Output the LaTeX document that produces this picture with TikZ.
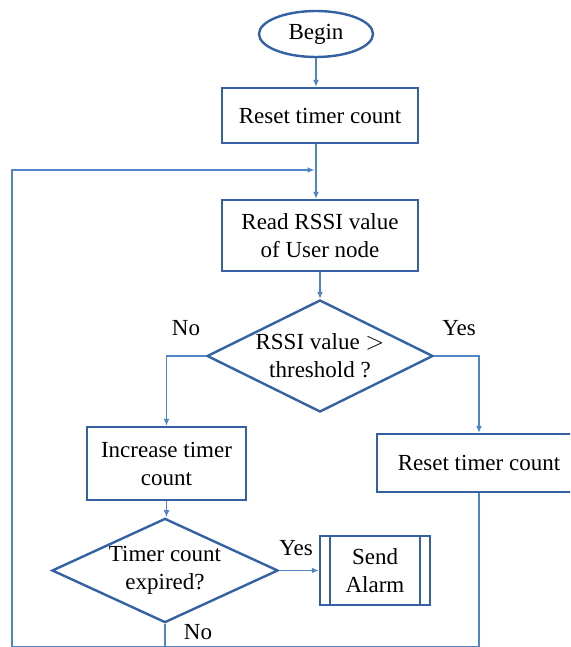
\documentclass[tikz,border=0pt]{standalone}
\usepackage{fontspec}
\setmainfont{Liberation Serif}
\usepackage{tikz}
\usetikzlibrary{
    shapes.geometric, arrows.meta, positioning
}

\definecolor{boxblue}{HTML}{3461A3}
\definecolor{lineblue}{HTML}{4F84C9}

\begin{document}
\begin{tikzpicture}[
    x=1pt, y=-1pt,
    box/.style={draw=boxblue, line width=2.4pt, minimum width=196, minimum height=55,
        font=\fontsize{23}{28}\selectfont, align=center, inner sep=0pt},
    decision/.style={diamond, shape aspect=2, draw=boxblue, line width=2.4pt,
        inner sep=0pt, font=\fontsize{23}{28}\selectfont, align=center},
    startstop/.style={ellipse, draw=boxblue, line width=2.4pt, minimum width=114,
        minimum height=46, inner sep=0pt, font=\fontsize{23}{28}\selectfont},
    label/.style={font=\fontsize{23}{28}\selectfont},
    line/.style={draw=lineblue, line width=1.5pt},
    arrow/.style={line, -{Latex[length=7pt, width=6pt]}}
]
    \useasboundingbox (0,0) rectangle (570,647);
    \clip (0,0) rectangle (570,647);

    % Main column
    \node [startstop] (begin) at (316, 34) {Begin};
    \node [box] (reset) at (320, 115.5) {Reset timer count};
    \node [box, minimum height=71] (read) at (320, 235.5) {Read RSSI value\\of User node};
    \node [decision, minimum width=226, minimum height=112] (rssi) at (320, 356)
        {RSSI value $>$\\threshold ?};

    % No branch
    \node [box, minimum width=159, minimum height=73] (increase) at (166.5, 463.5)
        {Increase timer\\count};
    \node [decision, minimum width=226, minimum height=103] (expired) at (165, 570.5)
        {Timer count\\expired?};
    \node [box, minimum width=110, minimum height=69] (alarm) at (375, 570.5)
        {Send\\Alarm};
    \draw [boxblue, line width=2.4pt]
        ([xshift=11]alarm.north west) -- ([xshift=11]alarm.south west);
    \draw [boxblue, line width=2.4pt]
        ([xshift=-11]alarm.north east) -- ([xshift=-11]alarm.south east);

    % Yes branch
    \node [box, minimum width=204, minimum height=58] (resetagain) at (479, 463)
        {Reset timer count};

    % Loop back corners
    \coordinate (loopbottom) at (12, 647);
    \coordinate (merge) at (316, 170);

    % Labels
    \node [label] (rssino) at (186, 328) {No};
    \node [label] (rssiyes) at (459, 328) {Yes};
    \node [label] (expiredyes) at (296, 548) {Yes};
    \node [label] (expiredno) at (198, 632) {No};

    % Connectors
    \draw [arrow] (begin.south) -- (begin |- reset.north);
    \draw [arrow] (begin |- reset.south) -- (begin |- read.north);
    \draw [arrow] (read.south) -- (rssi.north);
    \draw [arrow] (rssi.west) -| (increase.north);
    \draw [arrow] (rssi.east) -| (resetagain.north);
    \draw [arrow] (increase.south) -- (increase |- expired.north);
    \draw [arrow] (expired.east) -- (alarm.west);
    \draw [line] (expired.south) -- (expired |- loopbottom);
    \draw [arrow, shorten >=1.5pt]
        (resetagain.south) -- (resetagain |- loopbottom) -- (loopbottom) |- (merge);

\end{tikzpicture}
\end{document}
